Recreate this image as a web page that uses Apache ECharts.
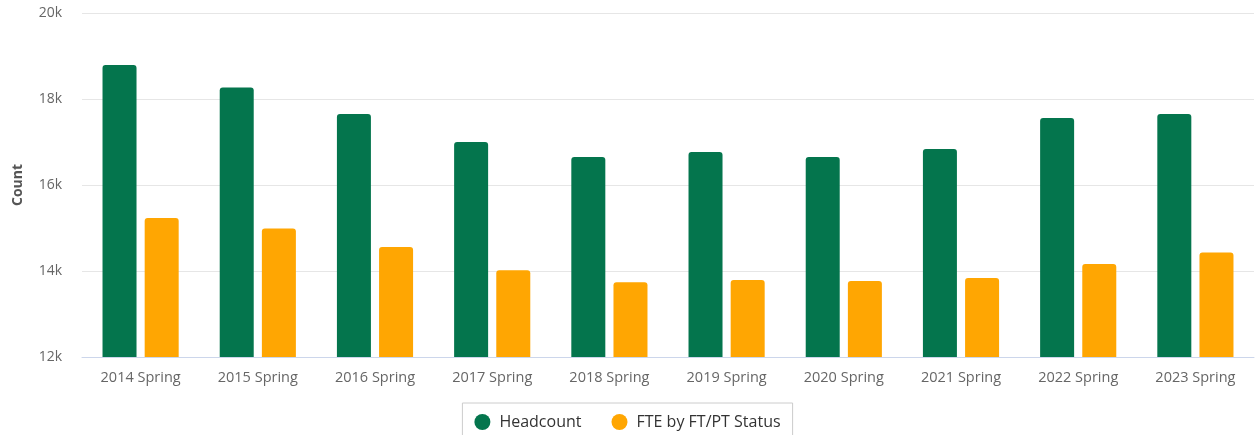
<!DOCTYPE html>
<html>
<head>
<meta charset="utf-8">
<script src="https://cdn.jsdelivr.net/npm/echarts@6/dist/echarts.min.js"></script>
<style>
html, body { margin: 0; padding: 0; background: #fff; }
#chart { width: 1255px; height: 435px; }
</style>
</head>
<body>
<div id="chart"></div>
<script>
// headcount vs FTE, spring terms
var terms = ['2014 Spring', '2015 Spring', '2016 Spring', '2017 Spring', '2018 Spring',
    '2019 Spring', '2020 Spring', '2021 Spring', '2022 Spring', '2023 Spring'];
var headcount = [18790, 18270, 17650, 17000, 16650, 16770, 16650, 16840, 17560, 17650];
var fte = [15230, 14990, 14560, 14020, 13740, 13790, 13770, 13840, 14160, 14430];
var yTicks = [12000, 14000, 16000, 18000, 20000];

var chart = echarts.init(document.getElementById('chart'));
chart.setOption({
    animation: false,
    textStyle: { fontFamily: 'Open Sans' },
    color: ['#04754d', '#ffa602'],
    grid: { left: 82, right: 1, top: 13, bottom: 78 },
    legend: {
        left: 'center',
        top: 403,
        icon: 'circle',
        itemWidth: 16,
        itemHeight: 16,
        itemGap: 30,
        padding: [11, 12, 12, 12],
        borderColor: '#cccccc',
        borderWidth: 1,
        textStyle: { fontSize: 16, color: '#333333', padding: [0, 0, 0, 4] },
        data: ['Headcount', 'FTE by FT/PT Status']
    },
    xAxis: {
        type: 'category',
        data: terms,
        axisTick: { show: false },
        axisLine: { lineStyle: { color: '#ccd6eb', width: 1 } },
        axisLabel: { color: '#666666', fontSize: 14.5, margin: 13 }
    },
    yAxis: {
        type: 'value',
        min: yTicks[0],
        max: yTicks[yTicks.length - 1],
        interval: 2000,
        name: 'Count',
        nameLocation: 'middle',
        nameGap: 57,
        nameTextStyle: { fontSize: 14, fontWeight: 'bold', color: '#555555' },
        axisLabel: {
            color: '#666666',
            fontSize: 14,
            margin: 20,
            formatter: function (v) { return (v / 1000) + 'k'; }
        },
        splitLine: { lineStyle: { color: '#e6e6e6' } }
    },
    series: [
        {
            name: 'Headcount',
            type: 'bar',
            data: headcount,
            barWidth: 34,
            barGap: '24%',
            itemStyle: { borderRadius: [3, 3, 0, 0] }
        },
        {
            name: 'FTE by FT/PT Status',
            type: 'bar',
            data: fte,
            barWidth: 34,
            barGap: '24%',
            itemStyle: { borderRadius: [3, 3, 0, 0] }
        }
    ]
});
</script>
</body>
</html>
